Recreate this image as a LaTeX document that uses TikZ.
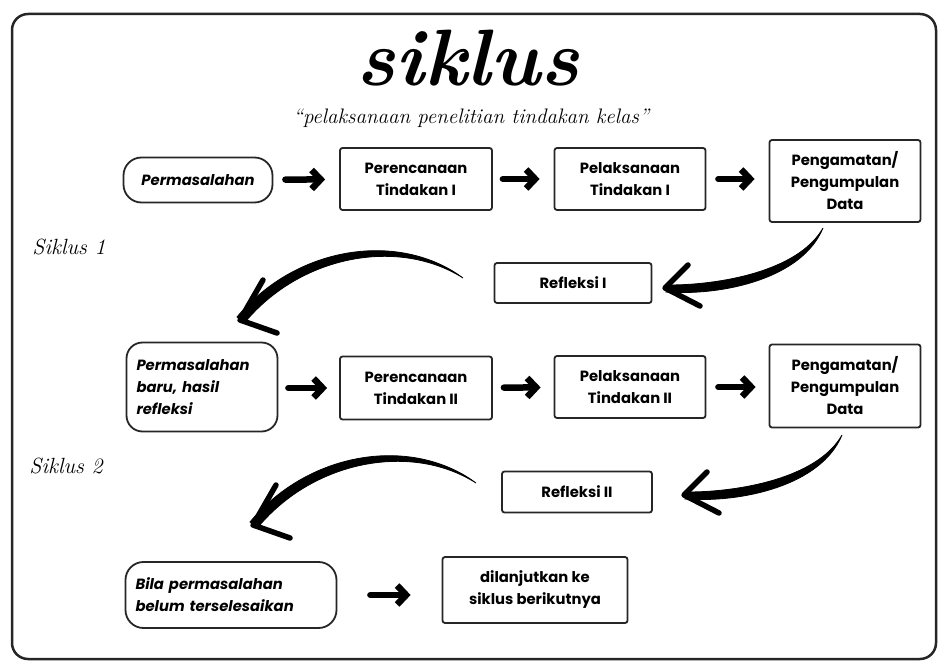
\documentclass[tikz,border=0pt]{standalone}
\usepackage{fontspec}
\newfontfamily\pop{Poppins}
\usetikzlibrary{arrows.meta}
\begin{document}
\begin{tikzpicture}[x=1pt,y=-1pt,
  box/.style={draw=black!85,line width=1.8pt,rounded corners=2.5pt,inner sep=0pt,align=center,
    font=\pop\bfseries\fontsize{14.8}{22}\selectfont},
  pill/.style={box,rounded corners=18pt,font=\pop\bfseries\itshape\fontsize{14.8}{22}\selectfont},
  sarrow/.style={line width=6.5pt,line cap=round,line join=round,-{Straight Barb[length=9pt,width=19pt]}},
  brush/.style={fill=black,draw=black,line width=0.8pt},
  barb/.style={draw=black,line width=5.5pt,line cap=round,line join=round},
  hand/.style={font=\itshape\fontsize{22}{24}\selectfont}]
\useasboundingbox (0,0) rectangle (946,663);
\draw[line width=2.5pt,draw=black!85,rounded corners=16pt] (12,14) rectangle (936,659);
% title
\node (title) at (468,58) {\fontsize{80}{82}\selectfont\bfseries\itshape siklus};
\node (sub) at (471,118) {\fontsize{21}{24}\selectfont\itshape “pelaksanaan penelitian tindakan kelas”};
\node[hand] (s1) at (69,247) {Siklus 1};
\node[hand] (s2) at (66,466) {Siklus 2};
% row 1
\node[pill,minimum width=149pt,minimum height=45pt] (p1) at (198,180) {Permasalahan};
\node[box,minimum width=152pt,minimum height=62pt] (r1) at (416,179) {Perencanaan\\Tindakan I};
\node[box,minimum width=151pt,minimum height=62pt] (l1) at (630,179) {Pelaksanaan\\Tindakan I};
\node[box,minimum width=151pt,minimum height=82pt] (g1) at (845,181) {Pengamatan/\\Pengumpulan\\Data};
\node[box,minimum width=157pt,minimum height=40pt] (f1) at (573,283) {Refleksi I};
\draw[sarrow,shorten <=12pt,shorten >=14pt] (p1) -- (r1);
\draw[sarrow,shorten <=10pt,shorten >=14pt] (r1) -- (l1);
\draw[sarrow,shorten <=12pt,shorten >=14pt] (l1.east) -- (g1.west|-l1.east);
% row 2
\node[box,rounded corners=16pt,minimum width=151pt,minimum height=89pt,text width=131pt,align=left,
  font=\pop\bfseries\itshape\fontsize{14.8}{22}\selectfont] (p2) at (202,387) {Permasalahan\\baru, hasil\\refleksi};
\node[box,minimum width=152pt,minimum height=63pt] (r2) at (416,388) {Perencanaan\\Tindakan II};
\node[box,minimum width=151pt,minimum height=62pt] (l2) at (630,387) {Pelaksanaan\\Tindakan II};
\node[box,minimum width=151pt,minimum height=83pt] (g2) at (845,386) {Pengamatan/\\Pengumpulan\\Data};
\node[box,minimum width=150pt,minimum height=41pt] (f2) at (577,492) {Refleksi II};
\draw[sarrow,shorten <=10pt,shorten >=12pt] (p2.east|-r2.west) -- (r2.west);
\draw[sarrow,shorten <=11pt,shorten >=13pt] (r2) -- (l2);
\draw[sarrow,shorten <=12pt,shorten >=13pt] (l2.east) -- (g2.west|-l2.east);
% row 3
\node[pill,minimum width=211pt,minimum height=66pt,text width=191pt,align=left] (p3) at (231,595) {Bila permasalahan\\belum terselesaikan};
\node[box,minimum width=185pt,minimum height=66pt] (d3) at (535,590) {dilanjutkan ke\\siklus berikutnya};
\draw[sarrow,shorten <=33pt,shorten >=31pt] (p3.east) -- (d3.west|-p3.east);
% curved arrow A: g1 -> f1
\coordinate (as) at (823,228);
\coordinate (at) at (665,288);
\fill[brush] (as) .. controls (802,279) and (722,296) .. (666,292) -- (669,285) .. controls (718,285) and (798,272) .. (as);
\draw[barb] (688,265) -- (at) -- (700,306);
% curved arrow B: f1 -> p2
\coordinate (bs) at (463,278);
\coordinate (bt) at (240,320);
\fill[brush] (bs) .. controls (400,231) and (297,245) .. (237,317) -- (246,321) .. controls (303,254) and (400,238) .. (bs);
\draw[barb] (263,280) -- (bt) -- (277,333);
% curved arrow C: g2 -> f2
\begin{scope}[shift={(19,207)}]
\coordinate (cs) at (823,228);
\coordinate (ct) at (665,288);
\fill[brush] (cs) .. controls (802,279) and (722,296) .. (666,292) -- (669,285) .. controls (718,285) and (798,272) .. (cs);
\draw[barb] (688,265) -- (ct) -- (700,306);
\end{scope}
% curved arrow D: f2 -> p3
\begin{scope}[shift={(13,205)}]
\coordinate (ds) at (463,278);
\coordinate (dt) at (240,320);
\fill[brush] (ds) .. controls (400,231) and (297,245) .. (237,317) -- (246,321) .. controls (303,254) and (400,238) .. (ds);
\draw[barb] (263,280) -- (dt) -- (277,333);
\end{scope}
\end{tikzpicture}
\end{document}
